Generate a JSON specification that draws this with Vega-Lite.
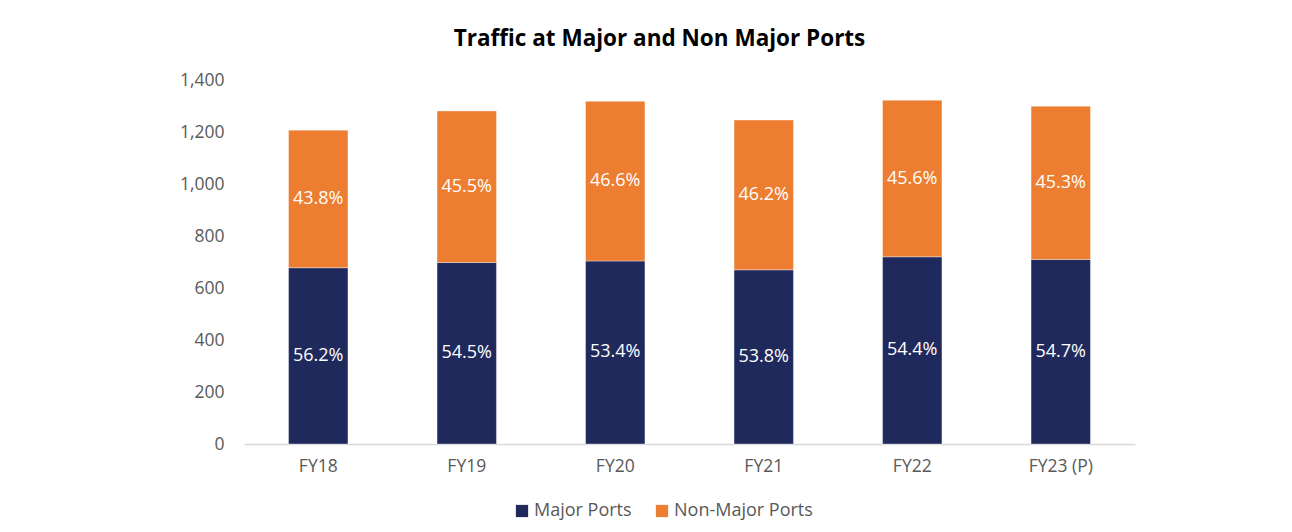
{
  "$schema": "https://vega.github.io/schema/vega-lite/v6.json",
  "autosize": {"type": "none"},
  "padding": {"left": 244, "top": 80, "right": 157, "bottom": 88},
  "width": 891,
  "height": 364,
  "background": "white",
  "title": {
    "text": "Traffic at Major and Non Major Ports",
    "font": "Open Sans",
    "fontSize": 22.5,
    "fontWeight": "bold",
    "color": "#000000",
    "anchor": "middle",
    "dx": -30,
    "dy": 25,
    "offset": 28,
    "baseline": "alphabetic"
  },
  "data": {
    "values": [
      {"year": "FY18", "type": "Major Ports", "value": 678, "share": "56.2%"},
      {"year": "FY18", "type": "Non-Major Ports", "value": 529, "share": "43.8%"},
      {"year": "FY19", "type": "Major Ports", "value": 698, "share": "54.5%"},
      {"year": "FY19", "type": "Non-Major Ports", "value": 583, "share": "45.5%"},
      {"year": "FY20", "type": "Major Ports", "value": 704, "share": "53.4%"},
      {"year": "FY20", "type": "Non-Major Ports", "value": 614, "share": "46.6%"},
      {"year": "FY21", "type": "Major Ports", "value": 670, "share": "53.8%"},
      {"year": "FY21", "type": "Non-Major Ports", "value": 576, "share": "46.2%"},
      {"year": "FY22", "type": "Major Ports", "value": 720, "share": "54.4%"},
      {"year": "FY22", "type": "Non-Major Ports", "value": 602, "share": "45.6%"},
      {"year": "FY23 (P)", "type": "Major Ports", "value": 710, "share": "54.7%"},
      {"year": "FY23 (P)", "type": "Non-Major Ports", "value": 589, "share": "45.3%"}
    ]
  },
  "transform": [
    {"stack": "value", "groupby": ["year"], "sort": [{"field": "type", "order": "ascending"}], "as": ["v0", "v1"]},
    {"calculate": "(datum.v0 + datum.v1) / 2", "as": "mid"}
  ],
  "encoding": {
    "x": {
      "field": "year",
      "type": "nominal",
      "sort": null,
      "title": null,
      "scale": {"paddingInner": 0.6, "paddingOuter": 0.3},
      "axis": {
        "labelAngle": 0,
        "labelFont": "Open Sans",
        "labelFontSize": 17.5,
        "labelColor": "#595959",
        "labelPadding": 13,
        "ticks": false,
        "domainColor": "#d9d9d9",
        "domainWidth": 1.5,
        "grid": false
      }
    }
  },
  "layer": [
    {
      "mark": {"type": "bar", "stroke": "#ffffff", "strokeWidth": 0.6, "strokeOpacity": 0.6},
      "encoding": {
        "y": {
          "field": "v0",
          "type": "quantitative",
          "title": null,
          "scale": {"domain": [0, 1400]},
          "axis": {
            "values": [0, 200, 400, 600, 800, 1000, 1200, 1400],
            "format": ",d",
            "labelFont": "Open Sans",
            "labelFontSize": 17.5,
            "labelColor": "#595959",
            "labelPadding": 20,
            "ticks": false,
            "domain": false,
            "grid": false
          }
        },
        "y2": {"field": "v1"},
        "color": {
          "field": "type",
          "type": "nominal",
          "scale": {"domain": ["Major Ports", "Non-Major Ports"], "range": ["#1f295c", "#ed7d31"]},
          "legend": {
            "title": null,
            "orient": "none",
            "direction": "horizontal",
            "legendX": 269,
            "legendY": 422,
            "padding": 0,
            "symbolType": "square",
            "symbolSize": 150,
            "symbolStrokeWidth": 0,
            "labelFont": "Open Sans",
            "labelFontSize": 18,
            "labelColor": "#595959",
            "labelOffset": 3,
            "columnPadding": 21
          }
        }
      }
    },
    {
      "mark": {"type": "text", "color": "#ffffff", "font": "Open Sans", "fontSize": 18, "baseline": "middle", "align": "center"},
      "encoding": {
        "y": {"field": "mid", "type": "quantitative"},
        "text": {"field": "share", "type": "nominal"}
      }
    }
  ],
  "config": {
    "view": {"stroke": null}
  }
}
